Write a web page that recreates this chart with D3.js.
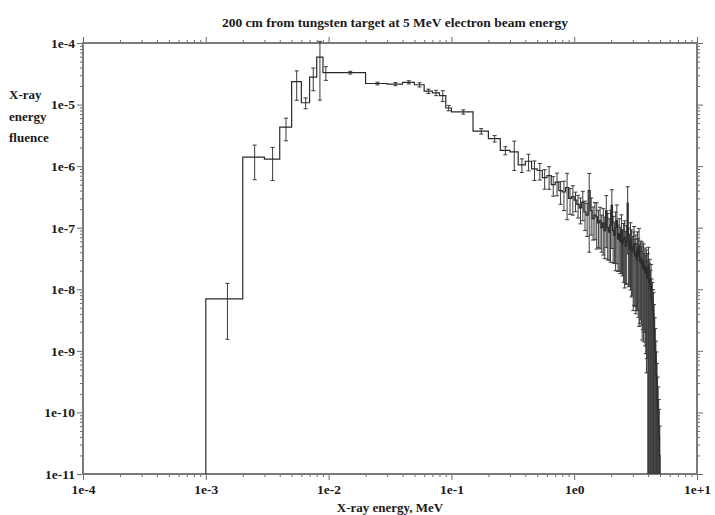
<!DOCTYPE html>
<html>
<head>
<meta charset="utf-8">
<script src="https://cdn.jsdelivr.net/npm/d3@7/dist/d3.min.js"></script>
<style>
    body { margin: 0; background: #fff; }
    svg text { font-family: "Liberation Serif", "DejaVu Serif", serif; font-weight: bold; fill: #1a1a1a; }
    .axis text { font-size: 13.5px; font-family: "Liberation Serif", serif; font-weight: bold; fill: #1a1a1a; }
    .axis line { stroke: #6a6a6a; stroke-width: 1; }
    .axis path { display: none; }
</style>
</head>
<body>
<svg id="chart" width="715" height="515"></svg>
<script>
// ===== Data =====
// Bin edges in MeV
const binEdges = [
    0.001, 0.002, 0.003, 0.004, 0.005, 0.006, 0.007, 0.008, 0.009,
    0.01, 0.02, 0.03, 0.04, 0.05, 0.06, 0.07, 0.08, 0.09,
    0.1, 0.15, 0.2, 0.25, 0.3, 0.35, 0.4, 0.45, 0.5, 0.55, 0.6, 0.65, 0.7, 0.75, 0.8, 0.85, 0.9, 0.95,
    1.0, 1.05, 1.1, 1.15, 1.2, 1.25, 1.3, 1.35, 1.4, 1.45,
    1.5, 1.55, 1.6, 1.65, 1.7, 1.75, 1.8, 1.85, 1.9, 1.95,
    2.0, 2.05, 2.1, 2.15, 2.2, 2.25, 2.3, 2.35, 2.4, 2.45,
    2.5, 2.55, 2.6, 2.65, 2.7, 2.75, 2.8, 2.85, 2.9, 2.95,
    3.0, 3.05, 3.1, 3.15, 3.2, 3.25, 3.3, 3.35, 3.4, 3.45,
    3.5, 3.55, 3.6, 3.65, 3.7, 3.75, 3.8, 3.85, 3.9, 3.95,
    4.0, 4.05, 4.1, 4.15, 4.2, 4.25, 4.3, 4.35, 4.4, 4.45,
    4.5, 4.55, 4.6, 4.65, 4.7, 4.75, 4.8, 4.85, 4.9, 4.95,
    5.0
];

// X-ray energy fluence per bin
const fluence = [
    7e-9, 1.4e-6, 1.3e-6, 4.3e-6, 2.35e-5, 1.07e-5, 2.8e-5, 5.9e-5, 3.3e-5,
    3.3e-5, 2.2e-5, 2.15e-5, 2.3e-5, 2.1e-5, 1.65e-5, 1.55e-5, 1.4e-5, 8.8e-6,
    7.6e-6, 3.7e-6, 2.8e-6, 1.8e-6, 1.7e-6, 1.05e-6, 1.2e-6, 9e-7, 8.5e-7, 6.5e-7, 7e-7, 5e-7, 5.5e-7, 4e-7, 3.8e-7, 4.5e-7, 3e-7, 3.2e-7,
    2.8e-7, 2.4e-7, 2.1e-7, 2.6e-7, 1.8e-7, 1.6e-7, 4.0e-7, 1.9e-7, 1.4e-7, 1.6e-7,
    1.5e-7, 1.2e-7, 1.3e-7, 1.0e-7, 1.2e-7, 9e-8, 1.9e-7, 1.0e-7, 8.5e-8, 1.1e-7,
    2.3e-7, 9e-8, 7.5e-8, 1.0e-7, 1.3e-7, 6.5e-8, 8e-8, 6e-8, 9e-8, 5.5e-8,
    6.5e-8, 7e-8, 5e-8, 6e-8, 2.5e-7, 5.5e-8, 4.5e-8, 6.5e-8, 5e-8, 4e-8,
    4.5e-8, 5.5e-8, 3.5e-8, 4e-8, 3e-8, 4.5e-8, 3.5e-8, 5e-8, 2.8e-8, 3.2e-8,
    2.6e-8, 3e-8, 2.2e-8, 2.8e-8, 2e-8, 2.4e-8, 1.8e-8, 2.2e-8, 1.5e-8, 1.9e-8,
    2.4e-8, 1.3e-8, 1.5e-8, 1e-8, 1.2e-8, 7e-9, 6e-9, 4.5e-9, 4e-9, 2.5e-9,
    1.5e-9, 1e-9, 6e-10, 4e-10, 2.5e-10, 1.5e-10, 1e-10, 6e-11, 4e-11, 2e-11
];

// Relative statistical error per bin
const relError = [
    0.78, 0.57, 0.55, 0.4, 0.5, 0.2, 0.4, 0.8, 0.25,
    0.05, 0.05, 0.06, 0.06, 0.08, 0.08, 0.1, 0.2, 0.1,
    0.08, 0.1, 0.12, 0.15, 0.5, 0.25, 0.3, 0.35, 0.3, 0.35, 0.4, 0.35, 0.4, 0.4, 0.5, 0.7, 0.45, 0.5,
    0.35, 0.4, 0.45, 0.5, 0.5, 0.55, 0.9, 0.6, 0.55, 0.6,
    0.7, 0.6, 0.65, 0.6, 0.7, 0.65, 0.75, 0.7, 0.65, 0.75,
    0.8, 0.7, 0.65, 0.8, 0.8, 0.7, 0.75, 0.7, 0.8, 0.7,
    0.8, 0.85, 0.75, 0.8, 0.85, 0.8, 0.75, 0.85, 0.85, 0.8,
    0.9, 0.9, 0.85, 0.9, 0.85, 0.9, 0.9, 0.95, 0.9, 0.9,
    0.9, 0.95, 0.9, 0.95, 0.9, 0.95, 0.95, 0.98, 0.95, 1.0,
    1.0, 1.0, 1.05, 1.05, 1.1, 1.1, 1.15, 1.2, 1.2, 1.25,
    1.3, 1.3, 1.4, 1.4, 1.5, 1.5, 1.6, 1.7, 1.8, 2.0
];

const xMajorTicks = [1e-4, 1e-3, 1e-2, 1e-1, 1e0, 1e1];
const xTickLabels = ['1e-4', '1e-3', '1e-2', '1e-1', '1e0', '1e+1'];
const yMajorTicks = [1e-4, 1e-5, 1e-6, 1e-7, 1e-8, 1e-9, 1e-10, 1e-11];
const yTickLabels = ['1e-4', '1e-5', '1e-6', '1e-7', '1e-8', '1e-9', '1e-10', '1e-11'];

const titleText = '200 cm from tungsten target at 5 MeV electron beam energy';
const xTitle = 'X-ray energy, MeV';
const yTitleLines = ['X-ray', 'energy', 'fluence'];

// ===== Layout =====
const plot = { left: 83, right: 697, top: 43, bottom: 474 };

const svg = d3.select('#chart');

const x = d3.scaleLog().domain([1e-4, 1e1]).range([plot.left, plot.right]);
const y = d3.scaleLog().domain([1e-11, 1e-4]).range([plot.bottom, plot.top]);

// values at or below zero sit on the bottom axis
const yPos = v => (v > 0 ? Math.min(y(v), plot.bottom) : plot.bottom);

const isMajor = (d, majors) => majors.some(m => Math.abs(Math.log10(d) - Math.log10(m)) < 1e-6);
const xMinor = x.ticks().filter(d => !isMajor(d, xMajorTicks));
const yMinor = y.ticks().filter(d => !isMajor(d, yMajorTicks));

// ===== Axes =====
function drawAxis(axisFn, scale, transform, majors, minors, labels) {
    const g = svg.append('g').attr('class', 'axis').attr('transform', transform);
    g.append('g').call(axisFn(scale).tickValues(minors).tickSize(3).tickSizeOuter(0).tickFormat(''));
    const major = axisFn(scale).tickValues(majors).tickSize(6).tickSizeOuter(0);
    if (labels) {
        major.tickFormat((d, i) => labels[i]).tickPadding(labels === yTickLabels ? 2 : 4);
    } else {
        major.tickFormat('');
    }
    g.append('g').call(major);
    return g;
}

drawAxis(d3.axisBottom, x, `translate(0,${plot.bottom})`, xMajorTicks, xMinor, xTickLabels);
drawAxis(d3.axisTop, x, `translate(0,${plot.top})`, xMajorTicks, xMinor, null);
drawAxis(d3.axisLeft, y, `translate(${plot.left},0)`, yMajorTicks, yMinor, yTickLabels);
drawAxis(d3.axisRight, y, `translate(${plot.right},0)`, yMajorTicks, yMinor, null);

// frame
svg.append('rect')
    .attr('x', plot.left)
    .attr('y', plot.top)
    .attr('width', plot.right - plot.left)
    .attr('height', plot.bottom - plot.top)
    .attr('fill', 'none')
    .attr('stroke', '#7a7a7a')
    .attr('stroke-width', 2);

// ===== Histogram =====
svg.append('clipPath')
    .attr('id', 'plot-clip')
    .append('rect')
    .attr('x', plot.left)
    .attr('y', 0)
    .attr('width', plot.right - plot.left)
    .attr('height', plot.bottom);

const bins = fluence.map((v, i) => ({
    lo: binEdges[i],
    hi: binEdges[i + 1],
    value: v,
    err: v * relError[i]
}));

const stepPoints = [[binEdges[0], 0]];
bins.forEach(b => {
    stepPoints.push([b.lo, b.value]);
    stepPoints.push([b.hi, b.value]);
});
stepPoints.push([binEdges[binEdges.length - 1], 0]);

const layer = svg.append('g').attr('clip-path', 'url(#plot-clip)');

// error bars
const capHalf = 2;
const errG = layer.append('g')
    .attr('stroke', '#3a3a3a')
    .attr('stroke-width', 1);

bins.forEach(b => {
    const cx = x((b.lo + b.hi) / 2);
    const yTop = yPos(b.value + b.err);
    const yBot = yPos(b.value - b.err);
    errG.append('line')
        .attr('x1', cx).attr('x2', cx)
        .attr('y1', yTop).attr('y2', yBot);
    errG.append('line')
        .attr('x1', cx - capHalf).attr('x2', cx + capHalf)
        .attr('y1', yTop).attr('y2', yTop);
    if (yBot < plot.bottom) {
        errG.append('line')
            .attr('x1', cx - capHalf).attr('x2', cx + capHalf)
            .attr('y1', yBot).attr('y2', yBot);
    }
});

layer.append('path')
    .datum(stepPoints)
    .attr('fill', 'none')
    .attr('stroke', '#2a2a2a')
    .attr('stroke-width', 1.2)
    .attr('d', d3.line().x(d => x(d[0])).y(d => yPos(d[1])));

// ===== Titles =====
svg.append('text')
    .attr('x', 395)
    .attr('y', 27)
    .attr('text-anchor', 'middle')
    .attr('font-size', 12)
    .attr('textLength', 346)
    .attr('lengthAdjust', 'spacingAndGlyphs')
    .text(titleText);

svg.append('text')
    .attr('x', (plot.left + plot.right) / 2)
    .attr('y', 512)
    .attr('text-anchor', 'middle')
    .attr('font-size', 13)
    .text(xTitle);

yTitleLines.forEach((line, i) => {
    svg.append('text')
        .attr('x', 9)
        .attr('y', 99 + i * 21.5)
        .attr('font-size', 13)
        .text(line);
});
</script>
</body>
</html>
